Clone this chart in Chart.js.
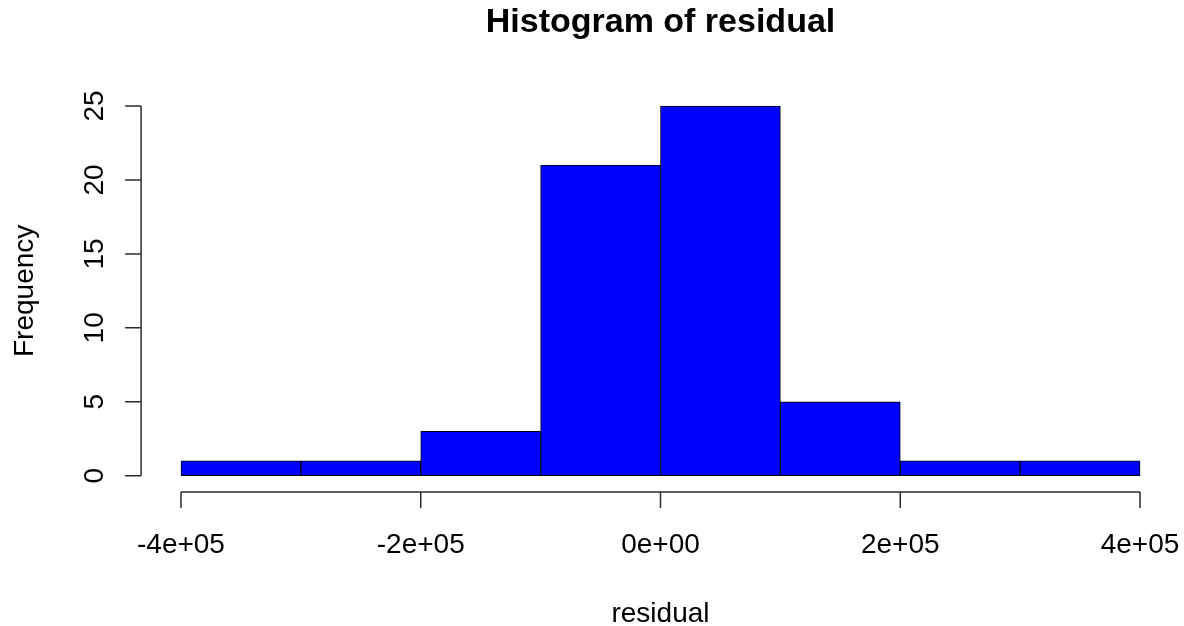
<!DOCTYPE html>
<html>
<head>
<meta charset="utf-8">
<title>Histogram of residual</title>
<script src="https://cdn.jsdelivr.net/npm/chart.js@4"></script>
<style>
  html, body { margin: 0; padding: 0; background: #fff; }
  #hist { display: block; }
</style>
</head>
<body>
<canvas id="hist" width="1184" height="626"></canvas>
<script>
/* R-style histogram of residuals, redrawn with Chart.js */
var BREAKS = [-400000, -300000, -200000, -100000, 0, 100000, 200000, 300000, 400000];
var COUNTS = [1, 1, 3, 21, 25, 5, 1, 1];
var X_TICKS = [-400000, -200000, 0, 200000, 400000];
var X_LABELS = ["-4e+05", "-2e+05", "0e+00", "2e+05", "4e+05"];
var Y_TICKS = [0, 5, 10, 15, 20, 25];
var TITLE = "Histogram of residual";
var X_TITLE = "residual";
var Y_TITLE = "Frequency";

var FONT = "'Liberation Sans', Arial, Helvetica, sans-serif";
var INK = "#000";
var AXIS = "#2b2b2b";
var TICK_LEN = 16;

// bin midpoints, one bar per bin
var bins = COUNTS.map(function (c, i) {
  return { x: (BREAKS[i] + BREAKS[i + 1]) / 2, y: c };
});

// R pads the data range by 4% on each side
var xSpan = BREAKS[BREAKS.length - 1] - BREAKS[0];
var yTop = Y_TICKS[Y_TICKS.length - 1];

/* ---------- axes, titles drawn R-style from the scales ---------- */
var rAxes = {
  id: "rAxes",
  afterDraw: function (chart) {
    var ctx = chart.ctx, ca = chart.chartArea;
    var xs = chart.scales.x, ys = chart.scales.y;
    ctx.save();
    ctx.strokeStyle = AXIS;
    ctx.lineWidth = 1.5;
    ctx.fillStyle = INK;

    // x axis
    var ay = ca.bottom + 1.5;
    var x0 = xs.getPixelForValue(X_TICKS[0]);
    var x1 = xs.getPixelForValue(X_TICKS[X_TICKS.length - 1]);
    ctx.beginPath();
    ctx.moveTo(x0, ay); ctx.lineTo(x1, ay);
    X_TICKS.forEach(function (v) {
      var px = xs.getPixelForValue(v);
      ctx.moveTo(px, ay); ctx.lineTo(px, ay + TICK_LEN);
    });
    ctx.stroke();
    ctx.font = "28px " + FONT;
    ctx.textAlign = "center";
    ctx.textBaseline = "alphabetic";
    X_TICKS.forEach(function (v, i) {
      ctx.fillText(X_LABELS[i], xs.getPixelForValue(v), ay + 61);
    });

    // y axis
    var ax = ca.left - 1.5;
    var y0 = ys.getPixelForValue(Y_TICKS[0]);
    var y1 = ys.getPixelForValue(Y_TICKS[Y_TICKS.length - 1]);
    ctx.beginPath();
    ctx.moveTo(ax, y0); ctx.lineTo(ax, y1);
    Y_TICKS.forEach(function (v) {
      var py = ys.getPixelForValue(v);
      ctx.moveTo(ax, py); ctx.lineTo(ax - TICK_LEN, py);
    });
    ctx.stroke();
    Y_TICKS.forEach(function (v) {
      ctx.save();
      ctx.translate(ax - 38, ys.getPixelForValue(v));
      ctx.rotate(-Math.PI / 2);
      ctx.fillText(String(v), 0, 0);
      ctx.restore();
    });

    var cx = (ca.left + ca.right) / 2;
    var cy = (ca.top + ca.bottom) / 2;

    // axis titles
    ctx.fillText(X_TITLE, cx, 622);
    ctx.save();
    ctx.translate(33, cy);
    ctx.rotate(-Math.PI / 2);
    ctx.fillText(Y_TITLE, 0, 0);
    ctx.restore();

    // main title
    ctx.font = "bold 34px " + FONT;
    ctx.fillText(TITLE, cx, 32);
    ctx.restore();
  }
};

new Chart(document.getElementById("hist"), {
  type: "bar",
  data: {
    datasets: [{
      data: bins,
      backgroundColor: "#0000FF",
      borderColor: "#000",
      borderWidth: 1,
      borderSkipped: false,
      barPercentage: 1,
      categoryPercentage: 1
    }]
  },
  options: {
    responsive: false,
    animation: false,
    events: [],
    layout: { padding: { left: 142.6, right: 5.6, top: 91.2, bottom: 135.5 } },
    plugins: { legend: { display: false }, tooltip: { enabled: false }, title: { display: false } },
    scales: {
      x: {
        type: "linear", offset: false, display: false,
        min: BREAKS[0] - 0.04 * xSpan,
        max: BREAKS[BREAKS.length - 1] + 0.04 * xSpan
      },
      y: {
        type: "linear", display: false,
        min: -0.04 * yTop,
        max: yTop * 1.04
      }
    }
  },
  plugins: [rAxes]
});
</script>
</body>
</html>
